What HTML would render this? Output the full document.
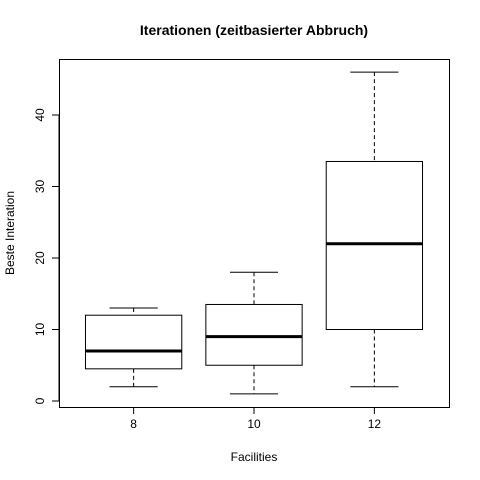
<!DOCTYPE html>
<html><head><meta charset="utf-8"><style>
body{margin:0;background:#fff}
svg{display:block;font-family:"Liberation Sans",sans-serif}
</style></head><body>
<svg id="chart" width="480" height="480" viewBox="0 0 480 480">
<rect width="480" height="480" fill="#fff"/>
<text x="254" y="35" text-anchor="middle" font-size="14" font-weight="bold">Iterationen (zeitbasierter Abbruch)</text>
<text x="254" y="461" text-anchor="middle" font-size="12">Facilities</text>
<text transform="translate(14,233) rotate(-90)" text-anchor="middle" font-size="12">Beste Interation</text>
<rect x="59.5" y="59.5" width="390" height="348" fill="none" stroke="#000"/>
<g id="marks"></g>
</svg>
<script>
const categories = ["8","10","12"];
const whiskerLow = [2,1,2];
const q1 = [4.5,5,10];
const medians = [7,9,22];
const q3 = [12,13.5,33.5];
const whiskerHigh = [13,18,46];
const yTicks = [0,10,20,30,40];

const NS="http://www.w3.org/2000/svg";
const g=document.getElementById('marks');
function y(v){return 401 - v*7.15;}
function x(i){const lo=0.38,hi=categories.length+0.62;return 59+(i+1-lo)/(hi-lo)*390;}
const unit=390/(categories.length+0.24);
function mk(tag,attrs){const e=document.createElementNS(NS,tag);for(const k in attrs)e.setAttribute(k,attrs[k]);g.appendChild(e);return e;}

yTicks.forEach(t=>{
  const l=mk('line',{x1:52,x2:59,y1:y(t),y2:y(t),stroke:'#000'});
  
  
  const tx=mk('text',{transform:`translate(44,${y(t)}) rotate(-90)`,'text-anchor':'middle','font-size':12});
  tx.textContent=t;
  
  
});
const ax=mk('line',{x1:59,x2:59,y1:y(yTicks[0]),y2:y(yTicks[yTicks.length-1]),stroke:'#000'});



categories.forEach((c,i)=>{
  const cx=x(i), hw=unit*0.4, cw=unit*0.2;
  const t=mk('line',{x1:cx,x2:cx,y1:407,y2:414,stroke:'#000'});
  
  
  const lb=mk('text',{x:cx,y:428,'text-anchor':'middle','font-size':12});
  lb.textContent=c;
  
  
  const w1=mk('line',{x1:cx,x2:cx,y1:y(whiskerHigh[i]),y2:y(q3[i]),stroke:'#000','stroke-dasharray':'4,3'});
  
  
  const w2=mk('line',{x1:cx,x2:cx,y1:y(q1[i]),y2:y(whiskerLow[i]),stroke:'#000','stroke-dasharray':'4,3'});
  
  
  const c1=mk('line',{x1:cx-cw,x2:cx+cw,y1:y(whiskerHigh[i]),y2:y(whiskerHigh[i]),stroke:'#000'});
  
  
  const c2=mk('line',{x1:cx-cw,x2:cx+cw,y1:y(whiskerLow[i]),y2:y(whiskerLow[i]),stroke:'#000'});
  
  
  const b=mk('rect',{x:cx-hw,y:y(q3[i]),width:2*hw,height:y(q1[i])-y(q3[i]),fill:'#fff',stroke:'#000'});
  
  
  const m=mk('line',{x1:cx-hw,x2:cx+hw,y1:y(medians[i]),y2:y(medians[i]),stroke:'#000','stroke-width':3});
  
  
});
</script>
</body></html>
